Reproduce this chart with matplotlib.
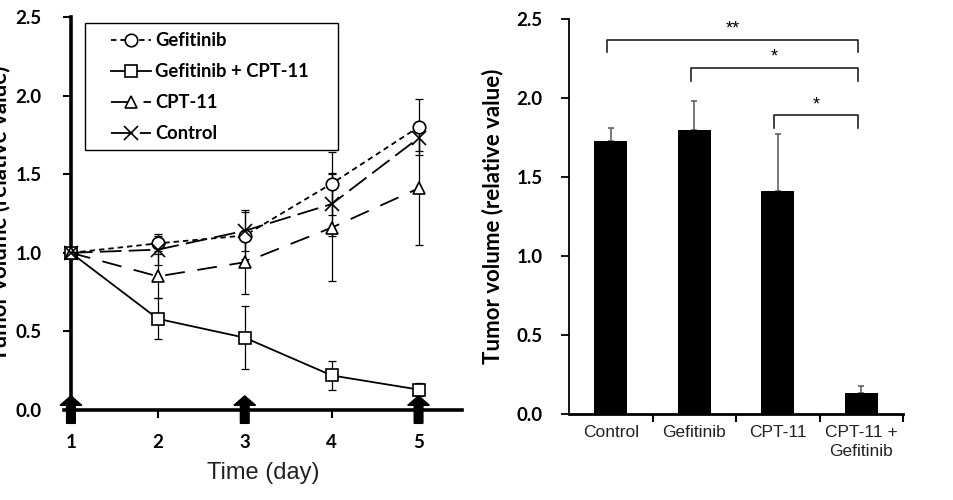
import numpy as np
import matplotlib
matplotlib.use("Agg")
import matplotlib.pyplot as plt
from matplotlib.patches import Rectangle
from matplotlib.ticker import FixedLocator

# ---- data: tumour growth over time ----
days = [1, 2, 3, 4, 5]
gef_mean = [1.0, 1.06, 1.11, 1.44, 1.80]
gef_err = [0.0, 0.05, 0.15, 0.20, 0.18]
combo_mean = [1.0, 0.58, 0.46, 0.22, 0.13]
combo_err = [0.0, 0.13, 0.20, 0.09, 0.04]
cpt_mean = [1.0, 0.85, 0.94, 1.16, 1.41]
cpt_err = [0.0, 0.14, 0.20, 0.34, 0.36]
ctrl_mean = [1.0, 1.02, 1.14, 1.31, 1.73]
ctrl_err = [0.0, 0.10, 0.13, 0.20, 0.08]
dose_days = [1, 3, 5]

# ---- data: final-day bar chart ----
groups = ["Control", "Gefitinib", "CPT-11", "CPT-11 +\nGefitinib"]
final_mean = [1.73, 1.80, 1.41, 0.13]
final_err = [0.08, 0.18, 0.36, 0.05]
comparisons = [(0, 3, "**"), (1, 3, "*"), (2, 3, "*")]
bracket_y = [2.37, 2.19, 1.89]

plt.rcParams["font.family"] = ["Lato", "DejaVu Sans"]
plt.rcParams["font.weight"] = "bold"

W, H = 954, 500
fig = plt.figure(figsize=(W / 100, H / 100), dpi=100)
ax1 = fig.add_axes([64 / W, 1 - 410 / H, (462 - 64) / W, (410 - 17) / H])
ax2 = fig.add_axes([569 / W, 1 - 414 / H, (903 - 569) / W, (414 - 19) / H])

# ---------------- left panel ----------------
series = [
    ("Gefitinib", gef_mean, gef_err, "o", (3.0, 2.2)),
    ("Gefitinib + CPT-11", combo_mean, combo_err, "s", None),
    ("CPT-11", cpt_mean, cpt_err, "^", (11, 7)),
    ("Control", ctrl_mean, ctrl_err, "x", (12, 4)),
]

for name, m, e, mk, dash in series:
    ax1.errorbar(days[1:], m[1:], yerr=e[1:], fmt="none", ecolor="black",
                 elinewidth=0.9, capsize=3, capthick=0.9, zorder=2)

for name, m, e, mk, dash in series:
    kw = dict(color="black", lw=1.3, marker=mk, markersize=9 if mk != "x" else 10,
              markerfacecolor="white", markeredgecolor="black",
              markeredgewidth=1.2, label=name, zorder=4)
    if dash is None:
        ax1.plot(days, m, linestyle="-", **kw)
    else:
        ax1.plot(days, m, dashes=dash, **kw)

for d in dose_days:
    ax1.arrow(d, -0.085, 0, 0.175, width=0.1, head_width=0.25, head_length=0.06,
              length_includes_head=True, color="black", clip_on=False, zorder=6)

ax1.set_xlim(0.92, 5.5)
ax1.set_ylim(0, 2.5)
ax1.spines["left"].set_position(("data", 1))
ax1.spines[["top", "right"]].set_visible(False)
ax1.spines["left"].set_linewidth(2.6)
ax1.spines["bottom"].set_linewidth(2.6)
ax1.set_xticks(days)
ax1.set_yticks(np.arange(0, 2.51, 0.5))
ax1.set_yticklabels([f"{v:.1f}" for v in np.arange(0, 2.51, 0.5)])
ax1.tick_params(axis="y", direction="out", length=6, width=1.5, pad=15, labelsize=13.5)
ax1.tick_params(axis="x", direction="out", length=6, width=1.5, pad=11, labelsize=13.5)
ax1.set_xlabel("Time (day)", fontsize=17, fontweight="normal",
               family="Liberation Sans", color="#222222")
ax1.xaxis.set_label_coords(0.5, -0.133)
ax1.set_ylabel("Tumor volume (relative value)", fontsize=16, fontweight="bold")
ax1.yaxis.set_label_coords(-0.135, 0.5)

# legend frame drawn by hand so the inner left margin matches
ax1.add_patch(Rectangle((0.053, 0.662), 0.635, 0.323, transform=ax1.transAxes,
                        facecolor="white", edgecolor="black", lw=1.0,
                        zorder=7, clip_on=False))
leg = ax1.legend(loc="upper left", bbox_to_anchor=(0.118, 0.962), borderaxespad=0,
                 frameon=False, fontsize=13.2, handlelength=2.2,
                 handletextpad=0.2, labelspacing=0.77, borderpad=0)
leg.set_zorder(8)
for t in leg.get_texts():
    t.set_fontweight("bold")

# ---------------- right panel ----------------
x = np.arange(len(groups))
ax2.bar(x, final_mean, width=0.4, color="black", zorder=3)
ax2.errorbar(x, final_mean, yerr=[np.zeros(len(x)), final_err], fmt="none",
             ecolor="#555555", elinewidth=1.1, capsize=2.5, capthick=1.1, zorder=2)

for (i, j, lab), by in zip(comparisons, bracket_y):
    x0, x1 = i - 0.04, j - 0.04
    ax2.plot([x0, x0, x1, x1], [by - 0.08, by, by, by - 0.08],
             color="#222222", lw=1.2, clip_on=False)
    ax2.text((x0 + x1) / 2, by + 0.015, lab, ha="center", va="bottom",
             fontsize=13, fontweight="normal", family="Liberation Sans")

ax2.set_xlim(-0.5, 3.5)
ax2.set_ylim(0, 2.5)
ax2.spines[["top", "right"]].set_visible(False)
ax2.spines["left"].set_linewidth(1.3)
ax2.spines["bottom"].set_linewidth(2.0)
ax2.set_xticks(x)
ax2.set_xticklabels(groups, fontsize=12.5, fontweight="normal",
                    family="Liberation Sans", color="#222222", linespacing=1.35)
ax2.xaxis.set_minor_locator(FixedLocator([0.5, 1.5, 2.5, 3.5]))
ax2.tick_params(axis="x", which="major", length=0, pad=8)
ax2.tick_params(axis="x", which="minor", direction="out", length=6, width=1.5)
ax2.set_yticks(np.arange(0, 2.51, 0.5))
ax2.set_yticklabels([f"{v:.1f}" for v in np.arange(0, 2.51, 0.5)])
ax2.tick_params(axis="y", direction="out", length=6, width=1.3, pad=13, labelsize=13.5)
ax2.set_ylabel("Tumor volume (relative value)", fontsize=16, fontweight="bold")
ax2.yaxis.set_label_coords(-0.198, 0.5)

fig.savefig("out.png", dpi=100)
